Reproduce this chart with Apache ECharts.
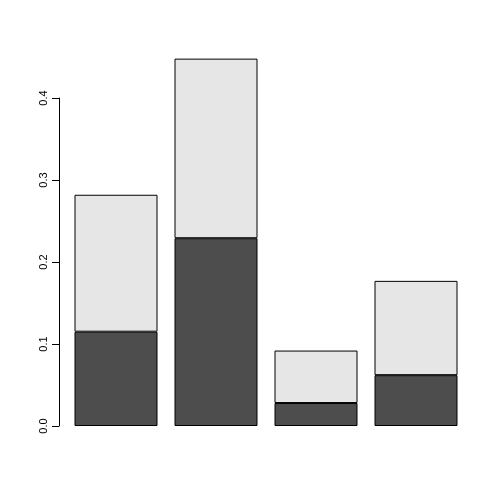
<!DOCTYPE html>
<html><head><meta charset="utf-8">
<script src="https://cdn.jsdelivr.net/npm/echarts@6/dist/echarts.min.js"></script>
<style>html,body{margin:0;background:#fff}#c{width:504px;height:504px}</style>
</head><body><div id="c"></div>
<script>
const categories = ['A','B','C','D'];
const darkValues = [0.115, 0.229, 0.028, 0.062];
const lightValues = [0.167, 0.219, 0.064, 0.115];
const yTicks = [0, 0.1, 0.2, 0.3, 0.4];
const chart = echarts.init(document.getElementById('c'));
chart.setOption({
  animation:false,
  grid:{left:66,right:38,top:98,bottom:78},
  xAxis:{type:'category',data:categories,show:false},
  yAxis:{type:'value',min:0,max:0.4,interval:0.1,offset:7,
    axisLine:{show:true,lineStyle:{color:'#000'}},
    axisTick:{show:true,length:7,lineStyle:{color:'#000'}},
    splitLine:{show:false},
    axisLabel:{rotate:90,color:'#000',fontSize:11,fontFamily:'Liberation Sans, Arial',margin:10,
      formatter:v=>v.toFixed(1)}},
  series:[
    {type:'bar',stack:'s',data:darkValues,barCategoryGap:'17%',clip:false,
     itemStyle:{color:'#4d4d4d',borderColor:'#000',borderWidth:1}},
    {type:'bar',stack:'s',data:lightValues,clip:false,
     itemStyle:{color:'#e6e6e6',borderColor:'#000',borderWidth:1}}
  ]
});
</script></body></html>
